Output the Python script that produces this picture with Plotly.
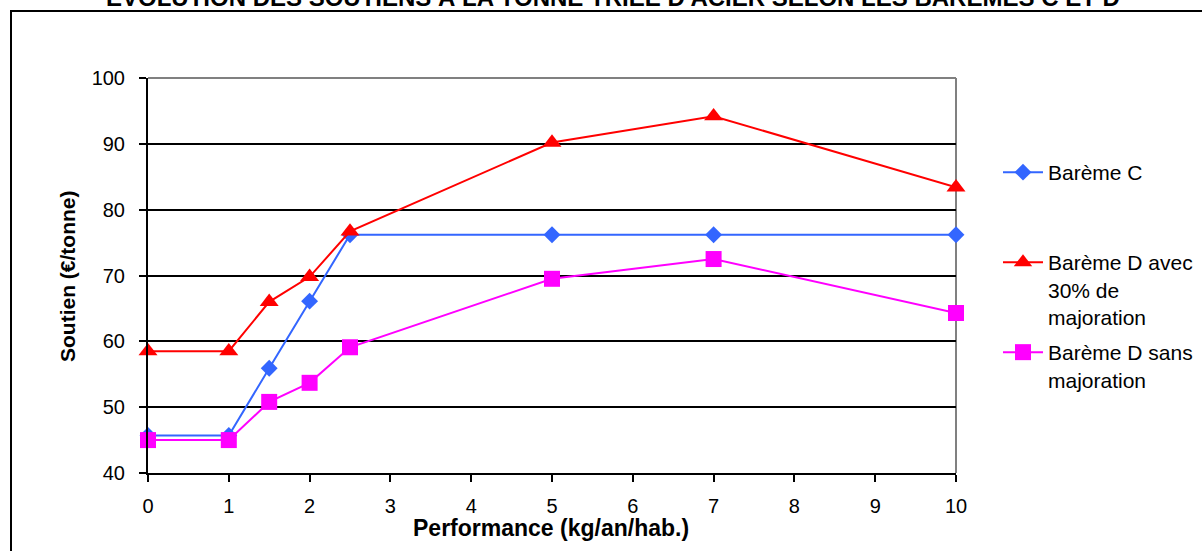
import plotly.graph_objects as go

# Performance levels (kg/an/hab.)
performance = [0, 1, 1.5, 2, 2.5, 5, 7, 10]

# Soutien (€/tonne) for each scale
bareme_c = [45.7, 45.7, 55.9, 66.1, 76.2, 76.2, 76.2, 76.2]
bareme_d_majore = [58.5, 58.5, 66.0, 69.8, 76.7, 90.2, 94.2, 83.4]
bareme_d_sans = [45.0, 45.0, 50.8, 53.7, 59.1, 69.5, 72.5, 64.3]

series_names = ["Barème C", "Barème D avec<br>30% de<br>majoration", "Barème D sans<br>majoration"]

y_ticks = [40, 50, 60, 70, 80, 90, 100]
x_ticks = list(range(0, 11))

title_text = "ÉVOLUTION DES SOUTIENS À LA TONNE TRIÉE D'ACIER SELON LES BARÈMES C ET D"
x_title = "Performance (kg/an/hab.)"
y_title = "Soutien (€/tonne)"

FONT = "Liberation Sans, Arial, sans-serif"

# Canvas geometry (pixels)
W, H = 1202, 551
L, R, T, B = 148, 246, 78, 78
PW, PH = W - L - R, H - T - B


def px(x):
    return (x - L) / PW


def py(y):
    return (H - B - y) / PH


fig = go.Figure()

fig.add_trace(go.Scatter(
    x=performance, y=bareme_c, name=series_names[0], mode="lines+markers",
    line=dict(color="#3366FF", width=2),
    marker=dict(symbol="diamond", size=13, color="#3366FF"),
    cliponaxis=False, legend="legend",
))
fig.add_trace(go.Scatter(
    x=performance, y=bareme_d_majore, name=series_names[1], mode="lines+markers",
    line=dict(color="#FF0000", width=2),
    marker=dict(symbol="triangle-up", size=16.5, color="#FF0000"),
    cliponaxis=False, legend="legend2",
))
fig.add_trace(go.Scatter(
    x=performance, y=bareme_d_sans, name=series_names[2], mode="lines+markers",
    line=dict(color="#FF00FF", width=2),
    marker=dict(symbol="square", size=16, color="#FF00FF"),
    cliponaxis=False, legend="legend3",
))

legend_common = dict(
    font=dict(family=FONT, size=21, color="black"),
    bgcolor="rgba(0,0,0,0)", borderwidth=0,
    xanchor="left", yanchor="top", valign="top",
    itemwidth=40, tracegroupgap=0,
)

fig.update_layout(
    width=W, height=H,
    margin=dict(l=L, r=R, t=T, b=B, autoexpand=False),
    paper_bgcolor="white", plot_bgcolor="white",
    font=dict(family=FONT, size=20, color="black"),
    showlegend=True,
    legend=dict(x=px(998), y=py(152), **legend_common),
    legend2=dict(x=px(998), y=py(242), **legend_common),
    legend3=dict(x=px(998), y=py(332), **legend_common),
    xaxis=dict(
        range=[0, 10], tickvals=x_ticks, ticktext=[str(v) for v in x_ticks],
        showgrid=False, zeroline=False,
        showline=True, linecolor="black", linewidth=2,
        ticks="outside", ticklen=7, tickwidth=2, tickcolor="black",
        ticklabelstandoff=7,
        tickfont=dict(family=FONT, size=20, color="black"),
    ),
    yaxis=dict(
        range=[40, 100], tickvals=y_ticks, ticktext=[str(v) for v in y_ticks],
        showgrid=True, gridcolor="black", gridwidth=2,
        zeroline=False,
        showline=True, linecolor="black", linewidth=2,
        ticks="outside", ticklen=7, tickwidth=2, tickcolor="black",
        ticklabelstandoff=10,
        tickfont=dict(family=FONT, size=20, color="black"),
    ),
    shapes=[
        # grey plot-area border on top and right
        dict(type="line", xref="paper", yref="paper", x0=0, x1=1, y0=1, y1=1,
             line=dict(color="#808080", width=2), layer="between"),
        dict(type="line", xref="paper", yref="paper", x0=1, x1=1, y0=0, y1=1,
             line=dict(color="#808080", width=2), layer="between"),
        # outer chart frame
        dict(type="rect", xref="paper", yref="paper",
             x0=px(11), x1=px(1220), y0=py(570), y1=py(11),
             line=dict(color="black", width=2), fillcolor="rgba(0,0,0,0)", layer="above"),
    ],
    annotations=[
        dict(text="<b>" + title_text + "</b>", xref="paper", yref="paper",
             x=px(613), y=py(-3), xanchor="center", yanchor="middle",
             showarrow=False, font=dict(family=FONT, size=24, color="black")),
        dict(text="<b>" + x_title + "</b>", xref="paper", yref="paper",
             x=px(551), y=py(528), xanchor="center", yanchor="middle",
             showarrow=False, font=dict(family=FONT, size=23, color="black")),
        dict(text="<b>" + y_title + "</b>", xref="paper", yref="paper",
             x=px(67), y=py(276), xanchor="center", yanchor="middle", textangle=-90,
             showarrow=False, font=dict(family=FONT, size=21, color="black")),
    ],
)

fig.write_html("out.html")
